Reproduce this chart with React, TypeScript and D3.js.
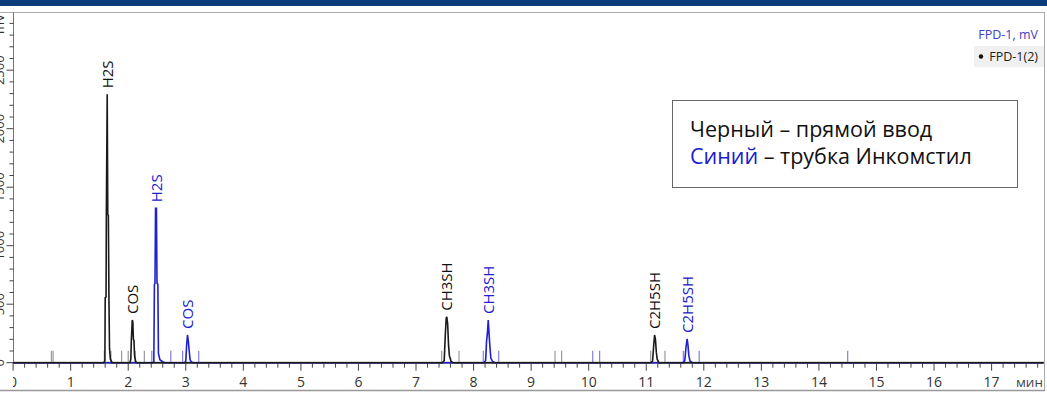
import React from "react";
import * as d3 from "d3";

// ---- data (time in minutes, signal in mV) ----
const BLACK_TRACE: [number, number][] = [
  [0, 0], [1.575, 0], [1.595, 15], [1.6, 555], [1.615, 560], [1.62, 1265], [1.635, 2294],
  [1.645, 1265], [1.655, 1260], [1.665, 555], [1.675, 120], [1.69, 30], [1.72, 0],
  [2.03, 0], [2.045, 30], [2.055, 200], [2.07, 365], [2.08, 350], [2.09, 200], [2.1, 190],
  [2.11, 60], [2.13, 10], [2.15, 0],
  [7.46, 0], [7.49, 20], [7.51, 250], [7.525, 380], [7.535, 393], [7.55, 330], [7.565, 150],
  [7.58, 60], [7.61, 10], [7.64, 0],
  [11.08, 0], [11.11, 15], [11.13, 150], [11.145, 237], [11.16, 200], [11.175, 90],
  [11.19, 30], [11.22, 0], [17.9, 0],
];
const BLUE_TRACE: [number, number][] = [
  [0, 0], [2.43, 0], [2.445, 10], [2.455, 670], [2.465, 675], [2.475, 1320], [2.49, 1320],
  [2.5, 680], [2.515, 670], [2.525, 80], [2.55, 25], [2.6, 8], [2.64, 0],
  [2.98, 0], [3.0, 15], [3.015, 150], [3.03, 237], [3.045, 180], [3.06, 100], [3.075, 25],
  [3.1, 5], [3.13, 0],
  [8.18, 0], [8.21, 20], [8.225, 180], [8.24, 250], [8.255, 365], [8.27, 240], [8.285, 130],
  [8.3, 40], [8.33, 10], [8.37, 0],
  [11.64, 0], [11.67, 20], [11.69, 130], [11.71, 203], [11.725, 150], [11.74, 60],
  [11.76, 15], [11.8, 0], [17.9, 0],
];
const BLACK_MARKERS = [0.665, 0.695, 1.585, 1.7, 1.885, 2.0, 2.12, 2.28, 7.446, 7.747, 9.415, 9.53, 11.077, 11.325];
const BLUE_MARKERS = [2.41, 2.74, 2.945, 3.225, 8.169, 8.437, 10.07, 10.19, 11.644, 11.92, 14.5];

const BLACK_LABELS = ["H2S", "COS", "CH3SH", "C2H5SH"];
const BLACK_LABEL_T = [1.635, 2.07, 7.535, 11.145];
const BLACK_LABEL_V = [2294, 365, 393, 237];
const BLUE_LABELS = ["H2S", "COS", "CH3SH", "C2H5SH"];
const BLUE_LABEL_T = [2.483, 3.03, 8.255, 11.71];
const BLUE_LABEL_V = [1320, 237, 365, 203];

const X_TICKS = d3.range(0, 18, 1);
const X_MINOR = d3.range(0, 17.81, 0.2);
const Y_TICKS = [0, 500, 1000, 1500, 2000, 2500];
const Y_MINOR = d3.range(0, 3001, 100);
const X_UNIT = "мин";
const Y_UNIT = "mV";
const LEGEND_TITLE = "FPD-1, mV";
const LEGEND_ITEM = "FPD-1(2)";
const NOTE_LINE1 = "Черный – прямой ввод";
const NOTE_LINE2_BLUE = "Синий";
const NOTE_LINE2_REST = " – трубка Инкомстил";

const W = 1047, H = 395;
const BLUE = "#2020cc";
const BLACKC = "#1a1a1a";
const FONT = "'Open Sans', 'Noto Sans', sans-serif";

export default function App() {
  const x = d3.scaleLinear().domain([0, 17.9]).range([13.1, 1043.4]);
  const y = d3.scaleLinear().domain([0, 3000]).range([362.7, 11.7]);
  const line = d3.line<[number, number]>().x(d => x(d[0])).y(d => y(d[1]));
  const base = y(0);
  const MARK_H = 12;

  return (
    <svg width={W} height={H} style={{ position: "absolute", left: 0, top: 0, background: "#fff" }}
      fontFamily={FONT}>
      <defs>
        <clipPath id="plot"><rect x={13} y={12} width={1031} height={352} /></clipPath>
        <clipPath id="xl"><rect x={13} y={364} width={1034} height={30} /></clipPath>
      </defs>
      <rect x={0} y={0} width={W} height={H} fill="#fff" />
      <rect x={0} y={0} width={W} height={6} fill="#0d3c7c" />
      {/* frame */}
      <line x1={0} x2={1045} y1={12.5} y2={12.5} stroke="#aaa" />
      <line x1={1044.5} x2={1044.5} y1={12} y2={391} stroke="#aaa" />
      <line x1={0} x2={1045} y1={390.5} y2={390.5} stroke="#999" strokeWidth={1.5} />

      {/* y axis */}
      <line x1={13.5} x2={13.5} y1={12} y2={base} stroke="#777" />
      {Y_MINOR.filter(v => y(v) >= 12).map(v => (
        <line key={"ym" + v} x1={Y_TICKS.includes(v) ? 6.5 : 9.5} x2={13.5} y1={y(v)} y2={y(v)} stroke="#444" />
      ))}
      {Y_TICKS.map(v => (
        <text key={"yl" + v} transform={`translate(4,${y(v)}) rotate(-90)`} textAnchor="middle"
          fontSize={13} fill="#333">{v}</text>
      ))}
      <text transform={`translate(4,24) rotate(-90)`} textAnchor="middle" fontSize={13} fill="#333">{Y_UNIT}</text>

      {/* x axis */}
      {X_MINOR.map(v => {
        const major = Math.abs(v - Math.round(v)) < 1e-6;
        return <line key={"xm" + v} x1={x(v)} x2={x(v)} y1={base} y2={base + (major ? 8 : 5)} stroke="#444" />;
      })}
      <g clipPath="url(#xl)">
        {X_TICKS.map(v => (
          <text key={"xl" + v} x={x(v)} y={387} textAnchor="middle" fontSize={14} fill="#333">{v}</text>
        ))}
      </g>
      <text x={1043} y={387} textAnchor="end" fontSize={13.5} fill="#444">{X_UNIT}</text>

      <g clipPath="url(#plot)">
        {BLACK_MARKERS.map((t, i) => (
          <line key={"bm" + i} x1={x(t)} x2={x(t)} y1={base} y2={base - MARK_H} stroke="#999" strokeWidth={1.2} />
        ))}
        {BLUE_MARKERS.map((t, i) => (
          <line key={"um" + i} x1={x(t)} x2={x(t)} y1={base} y2={base - MARK_H} stroke="#7f7fe6" strokeWidth={1.2} />
        ))}
        <line x1={13} x2={1044} y1={base} y2={base} stroke="#7a7a7a" strokeWidth={2} />
        <path d={line(BLUE_TRACE) || ""} fill="none" stroke={BLUE} strokeWidth={1.6} />
        <path d={line(BLACK_TRACE) || ""} fill="none" stroke={BLACKC} strokeWidth={1.6} />
      </g>

      {/* peak labels */}
      {BLACK_LABELS.map((s, i) => (
        <text key={"bl" + i} transform={`translate(${x(BLACK_LABEL_T[i]) + 5.5},${y(BLACK_LABEL_V[i]) - 6}) rotate(-90)`}
          fontSize={15} fill="#111">{s}</text>
      ))}
      {BLUE_LABELS.map((s, i) => (
        <text key={"ul" + i} transform={`translate(${x(BLUE_LABEL_T[i]) + 5.5},${y(BLUE_LABEL_V[i]) - 6}) rotate(-90)`}
          fontSize={15} fill={BLUE}>{s}</text>
      ))}

      {/* legend */}
      <text x={1038} y={39} textAnchor="end" fontSize={12.5} fill="#4040c4">{LEGEND_TITLE}</text>
      <rect x={974} y={46} width={70} height={21} fill="#f0f0f0" />
      <text x={1038} y={61} textAnchor="end" fontSize={12.5} fill="#222">{LEGEND_ITEM}</text>
      <circle cx={981} cy={56.5} r={2.2} fill="#111" />

      {/* note box */}
      <rect x={672.5} y={100.5} width={345} height={87} fill="#fff" stroke="#666" />
      <text x={690} y={137} fontSize={21.5} fill="#111">{NOTE_LINE1}</text>
      <text x={690} y={164} fontSize={21.5} fill="#111">
        <tspan fill="#1a1ad0">{NOTE_LINE2_BLUE}</tspan>{NOTE_LINE2_REST}
      </text>
    </svg>
  );
}
